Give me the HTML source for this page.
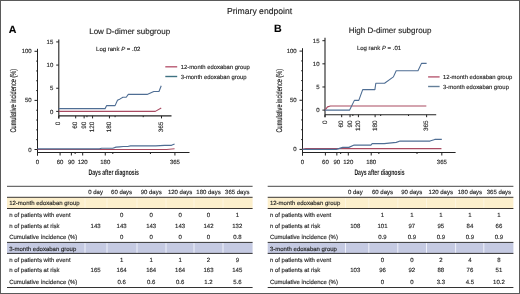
<!DOCTYPE html>
<html><head><meta charset="utf-8"><style>
html,body{margin:0;padding:0;background:#fff;}
body{width:520px;height:294px;overflow:hidden;}
text{stroke:#2a2a2a;stroke-width:0.14px;}
svg{display:block;font-family:"Liberation Sans", sans-serif;will-change:transform;text-rendering:geometricPrecision;}
</style></head><body>
<svg width="520" height="294" viewBox="0 0 520 294">
<rect x="0" y="0" width="520" height="294" fill="#fff"/>
<rect x="0.5" y="0.5" width="519" height="293" fill="none" stroke="#5a5a5a" stroke-width="1"/>
<text x="259.60" y="14.30" font-size="8.65" text-anchor="middle" fill="#222" font-weight="normal" >Primary endpoint</text>
<text x="8.80" y="32.90" font-size="10.6" text-anchor="start" fill="#000" font-weight="bold" >A</text>
<text x="89.20" y="34.30" font-size="8" text-anchor="start" fill="#222" font-weight="normal" >Low D-dimer subgroup</text>
<line x1="37.50" y1="48.80" x2="37.50" y2="155.50" stroke="#222" stroke-width="1"/>
<line x1="34.50" y1="149.50" x2="37.50" y2="149.50" stroke="#222" stroke-width="1"/>
<text x="31.70" y="151.50" font-size="6" text-anchor="end" fill="#1c1c1c" font-weight="normal" >0</text>
<line x1="36.20" y1="139.68" x2="37.50" y2="139.68" stroke="#222" stroke-width="1"/>
<line x1="36.20" y1="129.86" x2="37.50" y2="129.86" stroke="#222" stroke-width="1"/>
<line x1="36.20" y1="120.04" x2="37.50" y2="120.04" stroke="#222" stroke-width="1"/>
<line x1="36.20" y1="110.22" x2="37.50" y2="110.22" stroke="#222" stroke-width="1"/>
<line x1="34.50" y1="100.40" x2="37.50" y2="100.40" stroke="#222" stroke-width="1"/>
<text x="31.70" y="102.40" font-size="6" text-anchor="end" fill="#1c1c1c" font-weight="normal" >50</text>
<line x1="36.20" y1="90.58" x2="37.50" y2="90.58" stroke="#222" stroke-width="1"/>
<line x1="36.20" y1="80.76" x2="37.50" y2="80.76" stroke="#222" stroke-width="1"/>
<line x1="36.20" y1="70.94" x2="37.50" y2="70.94" stroke="#222" stroke-width="1"/>
<line x1="36.20" y1="61.12" x2="37.50" y2="61.12" stroke="#222" stroke-width="1"/>
<line x1="34.50" y1="51.30" x2="37.50" y2="51.30" stroke="#222" stroke-width="1"/>
<text x="31.70" y="53.30" font-size="6" text-anchor="end" fill="#1c1c1c" font-weight="normal" >100</text>
<line x1="37.50" y1="152.50" x2="189.50" y2="152.50" stroke="#222" stroke-width="1"/>
<line x1="37.50" y1="152.50" x2="37.50" y2="155.50" stroke="#222" stroke-width="1"/>
<text x="37.50" y="164.30" font-size="6" text-anchor="middle" fill="#1c1c1c" font-weight="normal" >0</text>
<line x1="60.09" y1="152.50" x2="60.09" y2="155.50" stroke="#222" stroke-width="1"/>
<text x="60.09" y="164.30" font-size="6" text-anchor="middle" fill="#1c1c1c" font-weight="normal" >60</text>
<line x1="71.38" y1="152.50" x2="71.38" y2="155.50" stroke="#222" stroke-width="1"/>
<text x="71.38" y="164.30" font-size="6" text-anchor="middle" fill="#1c1c1c" font-weight="normal" >90</text>
<line x1="82.68" y1="152.50" x2="82.68" y2="155.50" stroke="#222" stroke-width="1"/>
<text x="82.68" y="164.30" font-size="6" text-anchor="middle" fill="#1c1c1c" font-weight="normal" >120</text>
<line x1="105.27" y1="152.50" x2="105.27" y2="155.50" stroke="#222" stroke-width="1"/>
<text x="105.27" y="164.30" font-size="6" text-anchor="middle" fill="#1c1c1c" font-weight="normal" >180</text>
<line x1="174.92" y1="152.50" x2="174.92" y2="155.50" stroke="#222" stroke-width="1"/>
<text x="174.92" y="164.30" font-size="6" text-anchor="middle" fill="#1c1c1c" font-weight="normal" >365</text>
<line x1="75.15" y1="152.50" x2="75.15" y2="154.00" stroke="#222" stroke-width="1"/>
<line x1="112.80" y1="152.50" x2="112.80" y2="154.00" stroke="#222" stroke-width="1"/>
<line x1="150.45" y1="152.50" x2="150.45" y2="154.00" stroke="#222" stroke-width="1"/>
<polyline points="37.50,149.50 166.64,149.50 174.55,148.76" fill="none" stroke="#a94a61" stroke-width="1.2" stroke-linejoin="round"/>
<polyline points="37.50,148.91 99.43,148.91 101.58,148.27 112.80,148.27 116.04,147.14 119.58,146.85 123.27,146.50 127.67,146.50 130.50,145.90 155.65,145.90 164.61,145.28 171.53,145.28 174.55,144.05" fill="none" stroke="#4f6e94" stroke-width="1.2" stroke-linejoin="round"/>
<text x="0" y="0" font-size="8.3" fill="#111" text-anchor="middle" textLength="63.7" lengthAdjust="spacingAndGlyphs" transform="translate(16.20,100.65) rotate(-90)">Cumulative incidence (%)</text>
<text x="88.40" y="174.90" font-size="8" fill="#1a1a1a" font-weight="bold" style="stroke-width:0" textLength="50.6" lengthAdjust="spacingAndGlyphs">Days after diagnosis</text>
<line x1="58.80" y1="39.40" x2="58.80" y2="118.40" stroke="#222" stroke-width="1.1"/>
<line x1="56.20" y1="111.40" x2="58.80" y2="111.40" stroke="#222" stroke-width="1"/>
<text x="53.30" y="113.60" font-size="6" text-anchor="end" fill="#1c1c1c" font-weight="normal" >0</text>
<line x1="56.20" y1="88.24" x2="58.80" y2="88.24" stroke="#222" stroke-width="1"/>
<text x="53.30" y="90.44" font-size="6" text-anchor="end" fill="#1c1c1c" font-weight="normal" >5</text>
<line x1="56.20" y1="65.07" x2="58.80" y2="65.07" stroke="#222" stroke-width="1"/>
<text x="53.30" y="67.27" font-size="6" text-anchor="end" fill="#1c1c1c" font-weight="normal" >10</text>
<line x1="56.20" y1="41.91" x2="58.80" y2="41.91" stroke="#222" stroke-width="1"/>
<text x="53.30" y="44.11" font-size="6" text-anchor="end" fill="#1c1c1c" font-weight="normal" >15</text>
<line x1="58.80" y1="115.90" x2="171.50" y2="115.90" stroke="#222" stroke-width="1.1"/>
<line x1="58.80" y1="115.90" x2="58.80" y2="118.40" stroke="#222" stroke-width="1"/>
<text x="0" y="0" font-size="6.4" fill="#333" text-anchor="end" transform="translate(60.40,121.60) rotate(-90)">0</text>
<line x1="75.68" y1="115.90" x2="75.68" y2="118.40" stroke="#222" stroke-width="1"/>
<text x="0" y="0" font-size="6.4" fill="#333" text-anchor="end" transform="translate(77.28,121.60) rotate(-90)">60</text>
<line x1="84.13" y1="115.90" x2="84.13" y2="118.40" stroke="#222" stroke-width="1"/>
<text x="0" y="0" font-size="6.4" fill="#333" text-anchor="end" transform="translate(85.73,121.60) rotate(-90)">90</text>
<line x1="92.57" y1="115.90" x2="92.57" y2="118.40" stroke="#222" stroke-width="1"/>
<text x="0" y="0" font-size="6.4" fill="#333" text-anchor="end" transform="translate(94.17,121.60) rotate(-90)">120</text>
<line x1="109.45" y1="115.90" x2="109.45" y2="118.40" stroke="#222" stroke-width="1"/>
<text x="0" y="0" font-size="6.4" fill="#333" text-anchor="end" transform="translate(111.05,121.60) rotate(-90)">180</text>
<line x1="161.51" y1="115.90" x2="161.51" y2="118.40" stroke="#222" stroke-width="1"/>
<text x="0" y="0" font-size="6.4" fill="#333" text-anchor="end" transform="translate(163.11,121.60) rotate(-90)">365</text>
<line x1="86.94" y1="115.90" x2="86.94" y2="117.20" stroke="#222" stroke-width="1"/>
<line x1="115.08" y1="115.90" x2="115.08" y2="117.20" stroke="#222" stroke-width="1"/>
<line x1="143.22" y1="115.90" x2="143.22" y2="117.20" stroke="#222" stroke-width="1"/>
<polyline points="58.80,111.40 155.32,111.40 161.23,107.93" fill="none" stroke="#a94a61" stroke-width="1.1" stroke-linejoin="round"/>
<polyline points="58.80,108.62 105.09,108.62 106.69,105.61 115.08,105.61 117.50,100.28 120.15,98.89 122.90,97.22 126.20,97.22 128.31,94.40 147.10,94.40 153.80,91.48 158.98,91.48 161.23,85.69" fill="none" stroke="#4f6e94" stroke-width="1.1" stroke-linejoin="round"/>
<text x="96.10" y="51.30" font-size="6" fill="#222">Log rank <tspan font-style="italic">P</tspan> = .02</text>
<line x1="165.30" y1="66.80" x2="177.20" y2="66.80" stroke="#b85a72" stroke-width="1.4"/>
<line x1="165.30" y1="76.50" x2="177.20" y2="76.50" stroke="#3f7282" stroke-width="1.4"/>
<text x="180.70" y="68.95" font-size="5.9" text-anchor="start" fill="#222" font-weight="normal" >12-month edoxaban group</text>
<text x="180.70" y="78.65" font-size="5.9" text-anchor="start" fill="#222" font-weight="normal" >3-month edoxaban group</text>
<text x="273.90" y="32.30" font-size="10.6" text-anchor="start" fill="#000" font-weight="bold" >B</text>
<text x="348.80" y="33.20" font-size="8" text-anchor="start" fill="#222" font-weight="normal" >High D-dimer subgroup</text>
<line x1="302.50" y1="48.20" x2="302.50" y2="155.50" stroke="#222" stroke-width="1"/>
<line x1="299.50" y1="149.40" x2="302.50" y2="149.40" stroke="#222" stroke-width="1"/>
<text x="296.70" y="151.40" font-size="6" text-anchor="end" fill="#1c1c1c" font-weight="normal" >0</text>
<line x1="301.20" y1="139.57" x2="302.50" y2="139.57" stroke="#222" stroke-width="1"/>
<line x1="301.20" y1="129.74" x2="302.50" y2="129.74" stroke="#222" stroke-width="1"/>
<line x1="301.20" y1="119.91" x2="302.50" y2="119.91" stroke="#222" stroke-width="1"/>
<line x1="301.20" y1="110.08" x2="302.50" y2="110.08" stroke="#222" stroke-width="1"/>
<line x1="299.50" y1="100.25" x2="302.50" y2="100.25" stroke="#222" stroke-width="1"/>
<text x="296.70" y="102.25" font-size="6" text-anchor="end" fill="#1c1c1c" font-weight="normal" >50</text>
<line x1="301.20" y1="90.42" x2="302.50" y2="90.42" stroke="#222" stroke-width="1"/>
<line x1="301.20" y1="80.59" x2="302.50" y2="80.59" stroke="#222" stroke-width="1"/>
<line x1="301.20" y1="70.76" x2="302.50" y2="70.76" stroke="#222" stroke-width="1"/>
<line x1="301.20" y1="60.93" x2="302.50" y2="60.93" stroke="#222" stroke-width="1"/>
<line x1="299.50" y1="51.10" x2="302.50" y2="51.10" stroke="#222" stroke-width="1"/>
<text x="296.70" y="53.10" font-size="6" text-anchor="end" fill="#1c1c1c" font-weight="normal" >100</text>
<line x1="302.50" y1="152.50" x2="455.60" y2="152.50" stroke="#222" stroke-width="1"/>
<line x1="302.50" y1="152.50" x2="302.50" y2="155.50" stroke="#222" stroke-width="1"/>
<text x="302.50" y="164.30" font-size="6" text-anchor="middle" fill="#1c1c1c" font-weight="normal" >0</text>
<line x1="325.40" y1="152.50" x2="325.40" y2="155.50" stroke="#222" stroke-width="1"/>
<text x="325.40" y="164.30" font-size="6" text-anchor="middle" fill="#1c1c1c" font-weight="normal" >60</text>
<line x1="336.85" y1="152.50" x2="336.85" y2="155.50" stroke="#222" stroke-width="1"/>
<text x="336.85" y="164.30" font-size="6" text-anchor="middle" fill="#1c1c1c" font-weight="normal" >90</text>
<line x1="348.30" y1="152.50" x2="348.30" y2="155.50" stroke="#222" stroke-width="1"/>
<text x="348.30" y="164.30" font-size="6" text-anchor="middle" fill="#1c1c1c" font-weight="normal" >120</text>
<line x1="371.21" y1="152.50" x2="371.21" y2="155.50" stroke="#222" stroke-width="1"/>
<text x="371.21" y="164.30" font-size="6" text-anchor="middle" fill="#1c1c1c" font-weight="normal" >180</text>
<line x1="441.82" y1="152.50" x2="441.82" y2="155.50" stroke="#222" stroke-width="1"/>
<text x="441.82" y="164.30" font-size="6" text-anchor="middle" fill="#1c1c1c" font-weight="normal" >365</text>
<line x1="340.67" y1="152.50" x2="340.67" y2="154.00" stroke="#222" stroke-width="1"/>
<line x1="378.84" y1="152.50" x2="378.84" y2="154.00" stroke="#222" stroke-width="1"/>
<line x1="417.01" y1="152.50" x2="417.01" y2="154.00" stroke="#222" stroke-width="1"/>
<polyline points="302.50,149.40 305.94,148.71 309.90,148.53 441.44,148.53" fill="none" stroke="#a94a61" stroke-width="1.2" stroke-linejoin="round"/>
<polyline points="302.50,149.40 336.28,149.40 342.77,147.34 348.84,147.34 354.18,145.05 370.90,145.05 372.16,143.70 384.18,143.70 396.28,142.34 400.10,141.04 429.99,141.04 434.80,139.47 441.82,139.47" fill="none" stroke="#4f6e94" stroke-width="1.2" stroke-linejoin="round"/>
<text x="0" y="0" font-size="8.3" fill="#111" text-anchor="middle" textLength="63.7" lengthAdjust="spacingAndGlyphs" transform="translate(281.70,100.70) rotate(-90)">Cumulative incidence (%)</text>
<text x="354.40" y="174.90" font-size="8" fill="#1a1a1a" font-weight="bold" style="stroke-width:0" textLength="50.2" lengthAdjust="spacingAndGlyphs">Days after diagnosis</text>
<line x1="325.00" y1="37.80" x2="325.00" y2="117.20" stroke="#222" stroke-width="1.1"/>
<line x1="322.40" y1="110.10" x2="325.00" y2="110.10" stroke="#222" stroke-width="1"/>
<text x="319.50" y="112.30" font-size="6" text-anchor="end" fill="#1c1c1c" font-weight="normal" >0</text>
<line x1="322.40" y1="86.97" x2="325.00" y2="86.97" stroke="#222" stroke-width="1"/>
<text x="319.50" y="89.17" font-size="6" text-anchor="end" fill="#1c1c1c" font-weight="normal" >5</text>
<line x1="322.40" y1="63.83" x2="325.00" y2="63.83" stroke="#222" stroke-width="1"/>
<text x="319.50" y="66.03" font-size="6" text-anchor="end" fill="#1c1c1c" font-weight="normal" >10</text>
<line x1="322.40" y1="40.69" x2="325.00" y2="40.69" stroke="#222" stroke-width="1"/>
<text x="319.50" y="42.89" font-size="6" text-anchor="end" fill="#1c1c1c" font-weight="normal" >15</text>
<line x1="325.00" y1="114.70" x2="436.20" y2="114.70" stroke="#222" stroke-width="1.1"/>
<line x1="325.00" y1="114.70" x2="325.00" y2="117.20" stroke="#222" stroke-width="1"/>
<text x="0" y="0" font-size="6.4" fill="#333" text-anchor="end" transform="translate(326.60,120.40) rotate(-90)">0</text>
<line x1="341.70" y1="114.70" x2="341.70" y2="117.20" stroke="#222" stroke-width="1"/>
<text x="0" y="0" font-size="6.4" fill="#333" text-anchor="end" transform="translate(343.30,120.40) rotate(-90)">60</text>
<line x1="350.06" y1="114.70" x2="350.06" y2="117.20" stroke="#222" stroke-width="1"/>
<text x="0" y="0" font-size="6.4" fill="#333" text-anchor="end" transform="translate(351.66,120.40) rotate(-90)">90</text>
<line x1="358.41" y1="114.70" x2="358.41" y2="117.20" stroke="#222" stroke-width="1"/>
<text x="0" y="0" font-size="6.4" fill="#333" text-anchor="end" transform="translate(360.01,120.40) rotate(-90)">120</text>
<line x1="375.11" y1="114.70" x2="375.11" y2="117.20" stroke="#222" stroke-width="1"/>
<text x="0" y="0" font-size="6.4" fill="#333" text-anchor="end" transform="translate(376.71,120.40) rotate(-90)">180</text>
<line x1="426.62" y1="114.70" x2="426.62" y2="117.20" stroke="#222" stroke-width="1"/>
<text x="0" y="0" font-size="6.4" fill="#333" text-anchor="end" transform="translate(428.22,120.40) rotate(-90)">365</text>
<line x1="352.84" y1="114.70" x2="352.84" y2="116.00" stroke="#222" stroke-width="1"/>
<line x1="380.68" y1="114.70" x2="380.68" y2="116.00" stroke="#222" stroke-width="1"/>
<line x1="408.52" y1="114.70" x2="408.52" y2="116.00" stroke="#222" stroke-width="1"/>
<polyline points="325.00,110.10 327.51,106.86 330.40,105.98 426.34,105.98" fill="none" stroke="#a94a61" stroke-width="1.1" stroke-linejoin="round"/>
<polyline points="325.00,110.10 349.64,110.10 354.37,100.38 358.80,100.38 362.70,89.60 374.89,89.60 375.81,83.26 384.58,83.26 393.40,76.88 396.19,70.77 417.99,70.77 421.49,63.37 426.62,63.37" fill="none" stroke="#4f6e94" stroke-width="1.1" stroke-linejoin="round"/>
<text x="356.90" y="50.00" font-size="6" fill="#222">Log rank <tspan font-style="italic">P</tspan> = .01</text>
<line x1="428.10" y1="76.90" x2="439.60" y2="76.90" stroke="#b85a72" stroke-width="1.4"/>
<line x1="428.10" y1="86.50" x2="439.60" y2="86.50" stroke="#647f99" stroke-width="1.4"/>
<text x="443.10" y="79.05" font-size="5.9" text-anchor="start" fill="#222" font-weight="normal" >12-month edoxaban group</text>
<text x="443.10" y="88.65" font-size="5.9" text-anchor="start" fill="#222" font-weight="normal" >3-month edoxaban group</text>
<rect x="7.0" y="197.5" width="245.6" height="10.9" fill="#fcefcc"/>
<rect x="7.0" y="242.6" width="245.6" height="10.9" fill="#c5cae2"/>
<rect x="84.5" y="197.5" width="1" height="10.9" fill="#fdf5e0"/>
<rect x="84.5" y="242.6" width="1" height="10.9" fill="#eef0fa"/>
<rect x="106.5" y="197.5" width="1" height="10.9" fill="#fdf5e0"/>
<rect x="106.5" y="242.6" width="1" height="10.9" fill="#eef0fa"/>
<rect x="136.5" y="197.5" width="1" height="10.9" fill="#fdf5e0"/>
<rect x="136.5" y="242.6" width="1" height="10.9" fill="#eef0fa"/>
<rect x="165.5" y="197.5" width="1" height="10.9" fill="#fdf5e0"/>
<rect x="165.5" y="242.6" width="1" height="10.9" fill="#eef0fa"/>
<rect x="193.5" y="197.5" width="1" height="10.9" fill="#fdf5e0"/>
<rect x="193.5" y="242.6" width="1" height="10.9" fill="#eef0fa"/>
<rect x="222.5" y="197.5" width="1" height="10.9" fill="#fdf5e0"/>
<rect x="222.5" y="242.6" width="1" height="10.9" fill="#eef0fa"/>
<line x1="7.00" y1="186.30" x2="252.60" y2="186.30" stroke="#333" stroke-width="0.9"/>
<line x1="7.00" y1="197.30" x2="252.60" y2="197.30" stroke="#3a3530" stroke-width="1.0"/>
<line x1="7.00" y1="208.50" x2="252.60" y2="208.50" stroke="#3a3530" stroke-width="1.0"/>
<line x1="7.00" y1="242.40" x2="252.60" y2="242.40" stroke="#333" stroke-width="1.0"/>
<line x1="7.00" y1="253.40" x2="252.60" y2="253.40" stroke="#333" stroke-width="1.0"/>
<line x1="7.00" y1="287.50" x2="252.60" y2="287.50" stroke="#333" stroke-width="1.0"/>
<text x="95.60" y="193.90" font-size="6" text-anchor="middle" fill="#1c1c1c" font-weight="normal" >0 day</text>
<text x="121.60" y="193.90" font-size="6" text-anchor="middle" fill="#1c1c1c" font-weight="normal" >60 days</text>
<text x="151.20" y="193.90" font-size="6" text-anchor="middle" fill="#1c1c1c" font-weight="normal" >90 days</text>
<text x="180.10" y="193.90" font-size="6" text-anchor="middle" fill="#1c1c1c" font-weight="normal" >120 days</text>
<text x="208.50" y="193.90" font-size="6" text-anchor="middle" fill="#1c1c1c" font-weight="normal" >180 days</text>
<text x="237.30" y="193.90" font-size="6" text-anchor="middle" fill="#1c1c1c" font-weight="normal" >365 days</text>
<text x="9.20" y="205.40" font-size="6" text-anchor="start" fill="#1c1c1c" font-weight="normal" >12-month edoxaban group</text>
<text x="9.20" y="250.50" font-size="6" text-anchor="start" fill="#1c1c1c" font-weight="normal" >3-month edoxaban group</text>
<text x="9.20" y="216.80" font-size="6" text-anchor="start" fill="#1c1c1c" font-weight="normal" >n of patients with event</text>
<text x="121.60" y="216.80" font-size="6" text-anchor="middle" fill="#1c1c1c" font-weight="normal" >0</text>
<text x="151.20" y="216.80" font-size="6" text-anchor="middle" fill="#1c1c1c" font-weight="normal" >0</text>
<text x="180.10" y="216.80" font-size="6" text-anchor="middle" fill="#1c1c1c" font-weight="normal" >0</text>
<text x="208.50" y="216.80" font-size="6" text-anchor="middle" fill="#1c1c1c" font-weight="normal" >0</text>
<text x="237.30" y="216.80" font-size="6" text-anchor="middle" fill="#1c1c1c" font-weight="normal" >1</text>
<text x="9.20" y="228.10" font-size="6" text-anchor="start" fill="#1c1c1c" font-weight="normal" >n of patients at risk</text>
<text x="95.60" y="228.10" font-size="6" text-anchor="middle" fill="#1c1c1c" font-weight="normal" >143</text>
<text x="121.60" y="228.10" font-size="6" text-anchor="middle" fill="#1c1c1c" font-weight="normal" >143</text>
<text x="151.20" y="228.10" font-size="6" text-anchor="middle" fill="#1c1c1c" font-weight="normal" >143</text>
<text x="180.10" y="228.10" font-size="6" text-anchor="middle" fill="#1c1c1c" font-weight="normal" >143</text>
<text x="208.50" y="228.10" font-size="6" text-anchor="middle" fill="#1c1c1c" font-weight="normal" >142</text>
<text x="237.30" y="228.10" font-size="6" text-anchor="middle" fill="#1c1c1c" font-weight="normal" >132</text>
<text x="9.20" y="239.40" font-size="6" text-anchor="start" fill="#1c1c1c" font-weight="normal" >Cumulative incidence (%)</text>
<text x="121.60" y="239.40" font-size="6" text-anchor="middle" fill="#1c1c1c" font-weight="normal" >0</text>
<text x="151.20" y="239.40" font-size="6" text-anchor="middle" fill="#1c1c1c" font-weight="normal" >0</text>
<text x="180.10" y="239.40" font-size="6" text-anchor="middle" fill="#1c1c1c" font-weight="normal" >0</text>
<text x="208.50" y="239.40" font-size="6" text-anchor="middle" fill="#1c1c1c" font-weight="normal" >0</text>
<text x="237.30" y="239.40" font-size="6" text-anchor="middle" fill="#1c1c1c" font-weight="normal" >0.8</text>
<text x="9.20" y="261.50" font-size="6" text-anchor="start" fill="#1c1c1c" font-weight="normal" >n of patients with event</text>
<text x="121.60" y="261.50" font-size="6" text-anchor="middle" fill="#1c1c1c" font-weight="normal" >1</text>
<text x="151.20" y="261.50" font-size="6" text-anchor="middle" fill="#1c1c1c" font-weight="normal" >1</text>
<text x="180.10" y="261.50" font-size="6" text-anchor="middle" fill="#1c1c1c" font-weight="normal" >1</text>
<text x="208.50" y="261.50" font-size="6" text-anchor="middle" fill="#1c1c1c" font-weight="normal" >2</text>
<text x="237.30" y="261.50" font-size="6" text-anchor="middle" fill="#1c1c1c" font-weight="normal" >9</text>
<text x="9.20" y="272.40" font-size="6" text-anchor="start" fill="#1c1c1c" font-weight="normal" >n of patients at risk</text>
<text x="95.60" y="272.40" font-size="6" text-anchor="middle" fill="#1c1c1c" font-weight="normal" >165</text>
<text x="121.60" y="272.40" font-size="6" text-anchor="middle" fill="#1c1c1c" font-weight="normal" >164</text>
<text x="151.20" y="272.40" font-size="6" text-anchor="middle" fill="#1c1c1c" font-weight="normal" >164</text>
<text x="180.10" y="272.40" font-size="6" text-anchor="middle" fill="#1c1c1c" font-weight="normal" >164</text>
<text x="208.50" y="272.40" font-size="6" text-anchor="middle" fill="#1c1c1c" font-weight="normal" >163</text>
<text x="237.30" y="272.40" font-size="6" text-anchor="middle" fill="#1c1c1c" font-weight="normal" >145</text>
<text x="9.20" y="283.70" font-size="6" text-anchor="start" fill="#1c1c1c" font-weight="normal" >Cumulative incidence (%)</text>
<text x="121.60" y="283.70" font-size="6" text-anchor="middle" fill="#1c1c1c" font-weight="normal" >0.6</text>
<text x="151.20" y="283.70" font-size="6" text-anchor="middle" fill="#1c1c1c" font-weight="normal" >0.6</text>
<text x="180.10" y="283.70" font-size="6" text-anchor="middle" fill="#1c1c1c" font-weight="normal" >0.6</text>
<text x="208.50" y="283.70" font-size="6" text-anchor="middle" fill="#1c1c1c" font-weight="normal" >1.2</text>
<text x="237.30" y="283.70" font-size="6" text-anchor="middle" fill="#1c1c1c" font-weight="normal" >5.6</text>
<rect x="267.7" y="197.5" width="245.7" height="10.9" fill="#fcefcc"/>
<rect x="267.7" y="242.6" width="245.7" height="10.9" fill="#c5cae2"/>
<rect x="345.0" y="197.5" width="1" height="10.9" fill="#fdf5e0"/>
<rect x="345.0" y="242.6" width="1" height="10.9" fill="#eef0fa"/>
<rect x="368.3" y="197.5" width="1" height="10.9" fill="#fdf5e0"/>
<rect x="368.3" y="242.6" width="1" height="10.9" fill="#eef0fa"/>
<rect x="397.3" y="197.5" width="1" height="10.9" fill="#fdf5e0"/>
<rect x="397.3" y="242.6" width="1" height="10.9" fill="#eef0fa"/>
<rect x="426.0" y="197.5" width="1" height="10.9" fill="#fdf5e0"/>
<rect x="426.0" y="242.6" width="1" height="10.9" fill="#eef0fa"/>
<rect x="455.1" y="197.5" width="1" height="10.9" fill="#fdf5e0"/>
<rect x="455.1" y="242.6" width="1" height="10.9" fill="#eef0fa"/>
<rect x="483.3" y="197.5" width="1" height="10.9" fill="#fdf5e0"/>
<rect x="483.3" y="242.6" width="1" height="10.9" fill="#eef0fa"/>
<line x1="267.70" y1="186.30" x2="513.40" y2="186.30" stroke="#333" stroke-width="0.9"/>
<line x1="267.70" y1="197.30" x2="513.40" y2="197.30" stroke="#3a3530" stroke-width="1.0"/>
<line x1="267.70" y1="208.50" x2="513.40" y2="208.50" stroke="#3a3530" stroke-width="1.0"/>
<line x1="267.70" y1="242.40" x2="513.40" y2="242.40" stroke="#333" stroke-width="1.0"/>
<line x1="267.70" y1="253.40" x2="513.40" y2="253.40" stroke="#333" stroke-width="1.0"/>
<line x1="267.70" y1="287.50" x2="513.40" y2="287.50" stroke="#333" stroke-width="1.0"/>
<text x="355.30" y="193.90" font-size="6" text-anchor="middle" fill="#1c1c1c" font-weight="normal" >0 day</text>
<text x="382.50" y="193.90" font-size="6" text-anchor="middle" fill="#1c1c1c" font-weight="normal" >60 days</text>
<text x="411.80" y="193.90" font-size="6" text-anchor="middle" fill="#1c1c1c" font-weight="normal" >90 days</text>
<text x="440.80" y="193.90" font-size="6" text-anchor="middle" fill="#1c1c1c" font-weight="normal" >120 days</text>
<text x="469.90" y="193.90" font-size="6" text-anchor="middle" fill="#1c1c1c" font-weight="normal" >180 days</text>
<text x="498.90" y="193.90" font-size="6" text-anchor="middle" fill="#1c1c1c" font-weight="normal" >365 days</text>
<text x="269.90" y="205.40" font-size="6" text-anchor="start" fill="#1c1c1c" font-weight="normal" >12-month edoxaban group</text>
<text x="269.90" y="250.50" font-size="6" text-anchor="start" fill="#1c1c1c" font-weight="normal" >3-month edoxaban group</text>
<text x="269.90" y="216.80" font-size="6" text-anchor="start" fill="#1c1c1c" font-weight="normal" >n of patients with event</text>
<text x="382.50" y="216.80" font-size="6" text-anchor="middle" fill="#1c1c1c" font-weight="normal" >1</text>
<text x="411.80" y="216.80" font-size="6" text-anchor="middle" fill="#1c1c1c" font-weight="normal" >1</text>
<text x="440.80" y="216.80" font-size="6" text-anchor="middle" fill="#1c1c1c" font-weight="normal" >1</text>
<text x="469.90" y="216.80" font-size="6" text-anchor="middle" fill="#1c1c1c" font-weight="normal" >1</text>
<text x="498.90" y="216.80" font-size="6" text-anchor="middle" fill="#1c1c1c" font-weight="normal" >1</text>
<text x="269.90" y="228.10" font-size="6" text-anchor="start" fill="#1c1c1c" font-weight="normal" >n of patients at risk</text>
<text x="355.30" y="228.10" font-size="6" text-anchor="middle" fill="#1c1c1c" font-weight="normal" >108</text>
<text x="382.50" y="228.10" font-size="6" text-anchor="middle" fill="#1c1c1c" font-weight="normal" >101</text>
<text x="411.80" y="228.10" font-size="6" text-anchor="middle" fill="#1c1c1c" font-weight="normal" >97</text>
<text x="440.80" y="228.10" font-size="6" text-anchor="middle" fill="#1c1c1c" font-weight="normal" >95</text>
<text x="469.90" y="228.10" font-size="6" text-anchor="middle" fill="#1c1c1c" font-weight="normal" >84</text>
<text x="498.90" y="228.10" font-size="6" text-anchor="middle" fill="#1c1c1c" font-weight="normal" >66</text>
<text x="269.90" y="239.40" font-size="6" text-anchor="start" fill="#1c1c1c" font-weight="normal" >Cumulative incidence (%)</text>
<text x="382.50" y="239.40" font-size="6" text-anchor="middle" fill="#1c1c1c" font-weight="normal" >0.9</text>
<text x="411.80" y="239.40" font-size="6" text-anchor="middle" fill="#1c1c1c" font-weight="normal" >0.9</text>
<text x="440.80" y="239.40" font-size="6" text-anchor="middle" fill="#1c1c1c" font-weight="normal" >0.9</text>
<text x="469.90" y="239.40" font-size="6" text-anchor="middle" fill="#1c1c1c" font-weight="normal" >0.9</text>
<text x="498.90" y="239.40" font-size="6" text-anchor="middle" fill="#1c1c1c" font-weight="normal" >0.9</text>
<text x="269.90" y="261.50" font-size="6" text-anchor="start" fill="#1c1c1c" font-weight="normal" >n of patients with event</text>
<text x="382.50" y="261.50" font-size="6" text-anchor="middle" fill="#1c1c1c" font-weight="normal" >0</text>
<text x="411.80" y="261.50" font-size="6" text-anchor="middle" fill="#1c1c1c" font-weight="normal" >0</text>
<text x="440.80" y="261.50" font-size="6" text-anchor="middle" fill="#1c1c1c" font-weight="normal" >2</text>
<text x="469.90" y="261.50" font-size="6" text-anchor="middle" fill="#1c1c1c" font-weight="normal" >4</text>
<text x="498.90" y="261.50" font-size="6" text-anchor="middle" fill="#1c1c1c" font-weight="normal" >8</text>
<text x="269.90" y="272.40" font-size="6" text-anchor="start" fill="#1c1c1c" font-weight="normal" >n of patients at risk</text>
<text x="355.30" y="272.40" font-size="6" text-anchor="middle" fill="#1c1c1c" font-weight="normal" >103</text>
<text x="382.50" y="272.40" font-size="6" text-anchor="middle" fill="#1c1c1c" font-weight="normal" >96</text>
<text x="411.80" y="272.40" font-size="6" text-anchor="middle" fill="#1c1c1c" font-weight="normal" >92</text>
<text x="440.80" y="272.40" font-size="6" text-anchor="middle" fill="#1c1c1c" font-weight="normal" >88</text>
<text x="469.90" y="272.40" font-size="6" text-anchor="middle" fill="#1c1c1c" font-weight="normal" >76</text>
<text x="498.90" y="272.40" font-size="6" text-anchor="middle" fill="#1c1c1c" font-weight="normal" >51</text>
<text x="269.90" y="283.70" font-size="6" text-anchor="start" fill="#1c1c1c" font-weight="normal" >Cumulative incidence (%)</text>
<text x="382.50" y="283.70" font-size="6" text-anchor="middle" fill="#1c1c1c" font-weight="normal" >0</text>
<text x="411.80" y="283.70" font-size="6" text-anchor="middle" fill="#1c1c1c" font-weight="normal" >0</text>
<text x="440.80" y="283.70" font-size="6" text-anchor="middle" fill="#1c1c1c" font-weight="normal" >3.3</text>
<text x="469.90" y="283.70" font-size="6" text-anchor="middle" fill="#1c1c1c" font-weight="normal" >4.5</text>
<text x="498.90" y="283.70" font-size="6" text-anchor="middle" fill="#1c1c1c" font-weight="normal" >10.2</text>
</svg>
</body></html>
